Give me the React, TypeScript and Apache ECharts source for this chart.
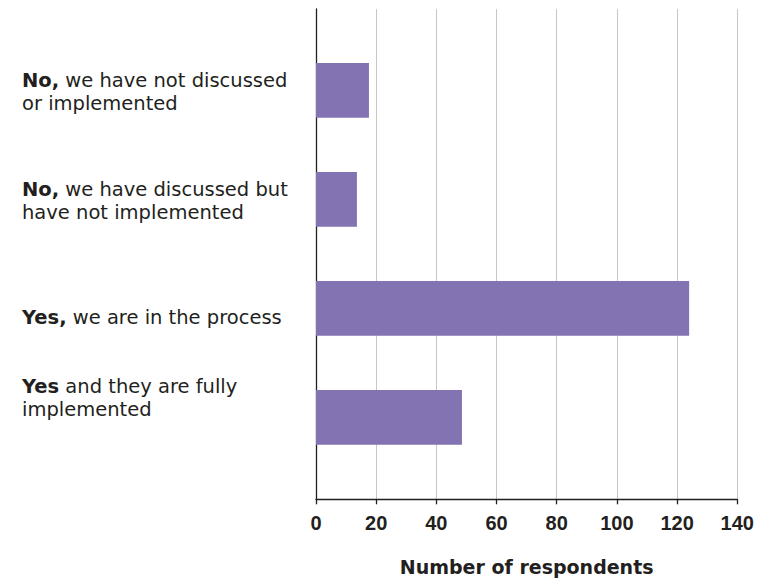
import React, { useEffect, useRef } from "react";
import * as echarts from "echarts";

const boldParts = ["No,", "No,", "Yes,", "Yes"];
const restParts = [
  " we have not discussed\nor implemented",
  " we have discussed but\nhave not implemented",
  " we are in the process",
  " and they are fully\nimplemented",
];
const categories = [
  "No, we have not discussed or implemented",
  "No, we have discussed but have not implemented",
  "Yes, we are in the process",
  "Yes and they are fully implemented",
];
const respondents = [17.6, 13.6, 124, 48.5];
const xTicks = { min: 0, max: 140, interval: 20 };
const axisTitle = "Number of respondents";

const labelPads = [
  [3.4, 0, 0, 0],
  [3.4, 0, 0, 0],
  [17.4, 0, 0, 0],
  [0, 0, 38.6, 0],
];

const INK = "#231f20";
const BAR = "#8373b3";
const LABEL_FONT = "'DejaVu Sans', sans-serif";
const TICK_FONT = "'Liberation Sans', Arial, sans-serif";

function richLabel(i: number) {
  const lines = restParts[i].split("\n");
  let s = `{b|${boldParts[i]}}{r|${lines[0]}}`;
  for (let k = 1; k < lines.length; k++) s += `\n{r|${lines[k]}}`;
  return s;
}

export default function App() {
  const ref = useRef<HTMLDivElement>(null);
  useEffect(() => {
    document.body.style.margin = "0";
    if (!ref.current) return;
    const chart = echarts.init(ref.current, undefined, { renderer: "svg" });
    const gridLeft = 316;
    const gridRight = 33.7;
    chart.setOption({
      animation: false,
      backgroundColor: "#ffffff",
      grid: [
        { left: gridLeft, right: gridRight, top: 9, bottom: 86.7, containLabel: false, outerBoundsMode: "none" },
        { left: gridLeft, right: gridRight, top: 35.8, height: 436, containLabel: false, outerBoundsMode: "none" },
      ],
      xAxis: [
        {
          type: "value",
          gridIndex: 0,
          min: xTicks.min,
          max: xTicks.max,
          interval: xTicks.interval,
          name: axisTitle,
          nameLocation: "middle",
          nameGap: 58,
          nameTextStyle: {
            fontFamily: LABEL_FONT,
            fontWeight: "bold",
            fontSize: 19,
            color: INK,
          },
          axisLine: { show: true, lineStyle: { color: INK, width: 1.3 } },
          axisTick: { show: true, length: 5, lineStyle: { color: INK, width: 1.3 } },
          axisLabel: {
            margin: 14,
            fontFamily: TICK_FONT,
            fontWeight: "bold",
            fontSize: 20,
            color: INK,
          },
          splitLine: { show: true, lineStyle: { color: "#c6c6c6", width: 1 } },
        },
        {
          type: "value",
          gridIndex: 1,
          min: xTicks.min,
          max: xTicks.max,
          interval: xTicks.interval,
          show: false,
        },
      ],
      yAxis: [
        {
          type: "value",
          gridIndex: 0,
          min: 0,
          max: 1,
          axisLine: { show: true, lineStyle: { color: INK, width: 1.3 } },
          axisTick: { show: false },
          axisLabel: { show: false },
          splitLine: { show: false },
        },
        {
          type: "category",
          gridIndex: 1,
          inverse: true,
          data: categories.map((c, i) => ({
            value: c,
            textStyle: { padding: labelPads[i], align: "left", verticalAlign: "middle" },
          })),
          axisLine: { show: false },
          axisTick: { show: false },
          splitLine: { show: false },
          axisLabel: {
            margin: gridLeft - 22,
            align: "left",
            verticalAlign: "middle",
            formatter: (_v: string, i: number) => richLabel(i),
            rich: {
              b: {
                fontFamily: LABEL_FONT,
                fontWeight: "bold",
                fontSize: 19.5,
                lineHeight: 23.4,
                color: INK,
              },
              r: {
                fontFamily: LABEL_FONT,
                fontWeight: "normal",
                fontSize: 19.5,
                lineHeight: 23.4,
                color: INK,
              },
            },
          },
        },
      ],
      series: [
        {
          type: "bar",
          xAxisIndex: 1,
          yAxisIndex: 1,
          data: respondents,
          barWidth: 54.7,
          itemStyle: { color: BAR },
          z: 3,
        },
      ],
    });
    return () => chart.dispose();
  }, []);
  return <div ref={ref} style={{ width: 771, height: 586 }} />;
}
